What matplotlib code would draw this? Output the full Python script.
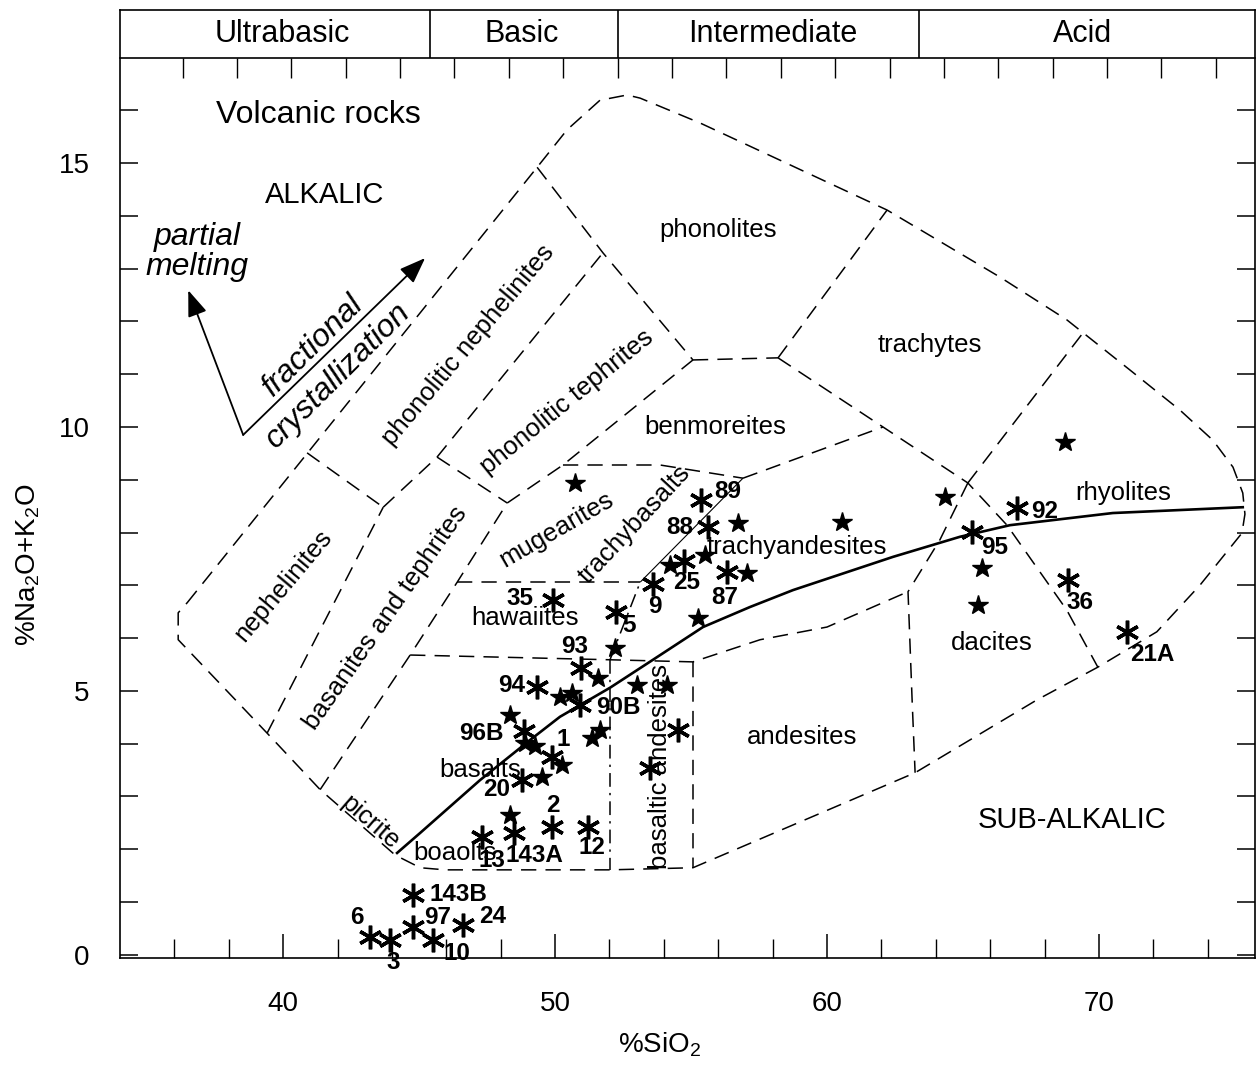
"""TAS diagram for volcanic rocks: rock fields, alkalic/sub-alkalic divide and samples."""

import matplotlib.pyplot as plt

plt.rcParams["font.family"] = ["Liberation Sans", "DejaVu Sans"]
plt.rcParams["mathtext.fontset"] = "custom"
plt.rcParams["mathtext.rm"] = "Liberation Sans"
plt.rcParams["mathtext.it"] = "Liberation Sans:italic"
plt.rcParams["mathtext.bf"] = "Liberation Sans:bold"

# ---- samples -------------------------------------------------------------
# filled stars (unnumbered)
STAR_SIO2 = [50.74, 52.21, 51.58, 53.01, 54.12, 50.18, 50.62, 48.35, 48.90,
             49.26, 50.26, 51.36, 51.65, 49.52, 48.35, 56.73, 55.51, 54.23,
             57.06, 55.26, 60.55, 64.34, 68.75, 65.70, 65.55]
STAR_ALK = [8.94, 5.81, 5.25, 5.11, 5.11, 4.89, 4.96, 4.55, 4.02,
            3.96, 3.60, 4.11, 4.26, 3.37, 2.65, 8.18, 7.58, 7.39,
            7.23, 6.38, 8.20, 8.67, 9.72, 7.33, 6.63]

# asterisks with sample numbers ("" = no number)
AST_SIO2 = [49.93, 49.34, 48.86, 48.79, 47.32, 48.49, 44.78, 44.78, 45.51,
            46.62, 43.20, 43.93, 49.89, 49.89, 51.21, 50.96, 50.92, 52.24,
            53.60, 55.37, 55.63, 54.74, 56.32, 66.99, 65.33, 68.86, 71.03,
            53.49, 54.52]
AST_ALK = [6.72, 5.08, 4.24, 3.31, 2.23, 2.31, 1.14, 0.53, 0.28,
           0.57, 0.34, 0.28, 3.75, 2.42, 2.42, 5.44, 4.73, 6.50,
           7.03, 8.62, 8.11, 7.46, 7.25, 8.47, 8.01, 7.10, 6.12,
           3.54, 4.26]
AST_LABELS = ["35", "94", "96B", "20", "13", "143A", "143B", "97", "10",
              "24", "6", "3", "1", "2", "12", "93", "90B", "5",
              "9", "89", "88", "25", "87", "92", "95", "36", "21A",
              "", ""]

# where each number sits relative to its asterisk (pixels, right / up)
LABEL_OFFSETS = {
    "35": (-33, 2), "94": (-26, 1), "96B": (-43, -2), "20": (-26, -9),
    "13": (10, -23), "143A": (20, -23), "143B": (45, 0), "97": (24, 9),
    "10": (24, -13), "24": (29, 8), "6": (-13, 19), "3": (3, -22),
    "1": (11, 17), "2": (1, 22), "12": (4, -20), "93": (-7, 21),
    "90B": (38, -2), "5": (13, -14), "9": (2, -23), "89": (27, 8),
    "88": (-28, -1), "25": (3, -21), "87": (-2, -25), "92": (28, -4),
    "95": (23, -15), "36": (12, -22), "21A": (25, -23),
}

# ---- field boundaries (SiO2, Na2O+K2O) ------------------------------------
OUTER = [(36.47, 6.67), (49.34, 14.92), (50.44, 15.63), (51.65, 16.19),
         (52.65, 16.29), (53.13, 16.23), (55.33, 15.76), (62.21, 14.11),
         (66.36, 12.84), (68.82, 12.03), (71.14, 11.08), (72.98, 10.32),
         (74.19, 9.75), (74.93, 9.24), (75.29, 8.75), (75.37, 8.35),
         (75.26, 7.99), (73.71, 7.00), (72.13, 6.12), (69.96, 5.45),
         (67.72, 4.83), (63.24, 3.45), (55.07, 1.65), (52.02, 1.61),
         (45.96, 1.61), (45.04, 1.65), (44.12, 1.89), (41.36, 3.13),
         (39.41, 4.20), (36.14, 5.97), (36.14, 6.48), (36.47, 6.67)]
NEPH_BASAN = [(39.41, 4.20), (43.68, 8.48)]
NEPH_TOP = [(40.88, 9.51), (43.68, 8.48)]
PHON_NEPH_TEPH = [(43.68, 8.48), (45.66, 9.43), (51.76, 13.30)]
BASAN_TOP = [(45.66, 9.43), (48.24, 8.56)]
BASAN_RIGHT = [(41.36, 3.13), (44.67, 5.68), (46.40, 7.06), (48.24, 8.56)]
PHON_TEPH_LOW = [(48.24, 8.56), (50.29, 9.28), (55.07, 11.27)]
PHONOLITE_LEFT = [(49.34, 14.92), (51.76, 13.30), (55.07, 11.27)]
PHONOLITE_LOW = [(55.07, 11.27), (58.20, 11.31)]
PHONOLITE_TRACHYTE = [(58.20, 11.31), (62.21, 14.11)]
TRACHYTE_LOW = [(58.20, 11.31), (62.06, 10.00), (65.18, 8.94), (66.62, 8.14),
                (68.82, 6.53), (69.96, 5.45)]
RHYOLITE_TRACHYTE = [(65.18, 8.94), (69.41, 11.78)]
DACITE_LEFT = [(65.18, 8.94), (64.15, 7.86), (62.98, 6.88), (63.13, 4.83),
               (63.24, 3.45)]
ANDESITE_TOP = [(44.67, 5.68), (52.02, 5.59), (55.07, 5.55), (57.54, 5.97),
                (60.00, 6.21), (62.98, 6.88)]
BAS_AND_LEFT = [(52.02, 5.59), (52.02, 1.61)]
BAS_AND_RIGHT = [(55.07, 5.55), (55.07, 1.65)]
HAWAIITE_TOP = [(46.40, 7.06), (53.13, 7.06)]
TRACHYAND_LOW = [(52.02, 5.59), (53.13, 7.06)]
TRACHYBAS_LINE = [(53.13, 7.06), (56.91, 9.03)]
TRACHYAND_TOP = [(56.91, 9.03), (62.06, 10.00)]
MUGEARITE_TOP = [(50.29, 9.28), (53.86, 9.28), (56.91, 9.03)]

# alkalic / sub-alkalic divide
DIVIDE_SIO2 = [44.19, 45.04, 47.24, 49.08, 50.18, 52.02, 53.60, 55.44, 57.17,
               58.75, 62.43, 64.89, 66.73, 70.51, 75.29]
DIVIDE_ALK = [1.93, 2.31, 3.31, 4.07, 4.51, 5.06, 5.59, 6.21, 6.59,
              6.91, 7.54, 7.92, 8.14, 8.37, 8.48]

SILICA_CLASSES = ["Ultrabasic", "Basic", "Intermediate", "Acid"]
CLASS_EDGES = [45.4, 52.3, 63.4]
CLASS_CENTRES = [39.96, 48.79, 58.01, 69.41]

# field names: text, SiO2, alkalis, rotation
FIELD_NAMES = [
    ("phonolites", 55.99, 13.73, 0),
    ("trachytes", 63.79, 11.55, 0),
    ("benmoreites", 55.88, 10.00, 0),
    ("trachyandesites", 58.90, 7.73, 0),
    ("hawaiites", 48.90, 6.38, 0),
    ("basalts", 47.24, 3.50, 0),
    ("boaolts", 46.30, 1.92, 0),
    ("andesites", 59.08, 4.13, 0),
    ("dacites", 66.07, 5.91, 0),
    ("rhyolites", 70.88, 8.75, 0),
    ("phonolitic nephelinites", 46.80, 11.55, 50),
    ("phonolitic tephrites", 50.44, 10.47, 39),
    ("basanites and tephrites", 43.75, 6.38, 55),
    ("nephelinites", 40.00, 6.99, 50),
    ("trachybasalts", 52.94, 8.16, 47),
    ("mugearites", 50.04, 8.05, 30),
    ("picrite", 43.20, 2.50, -41),
    ("basaltic andesites", 53.86, 3.56, 90),
]

DASH = (0, (10, 6))
DASHDOT = (0, (9, 4, 1.5, 4))


def _line(ax, pts, ls=DASH, lw=1.1):
    xs = [p[0] for p in pts]
    ys = [p[1] for p in pts]
    ax.plot(xs, ys, color="black", linestyle=ls, linewidth=lw,
            solid_capstyle="butt", zorder=2)


def draw_fields(ax):
    for pts in [OUTER, NEPH_BASAN, NEPH_TOP, PHON_NEPH_TEPH, BASAN_TOP,
                BASAN_RIGHT, PHON_TEPH_LOW, PHONOLITE_LEFT, PHONOLITE_LOW,
                PHONOLITE_TRACHYTE, TRACHYTE_LOW, RHYOLITE_TRACHYTE,
                DACITE_LEFT, ANDESITE_TOP, BAS_AND_RIGHT, HAWAIITE_TOP,
                TRACHYAND_TOP, MUGEARITE_TOP]:
        _line(ax, pts)
    _line(ax, BAS_AND_LEFT, ls=DASHDOT)
    _line(ax, TRACHYAND_LOW, ls=DASHDOT)
    _line(ax, TRACHYBAS_LINE, ls="-", lw=0.8)

    ax.plot(DIVIDE_SIO2, DIVIDE_ALK, color="black", linewidth=1.9, zorder=3)

    for text, x, y, rot in FIELD_NAMES:
        ax.text(x, y, text, fontsize=18.5, rotation=rot, rotation_mode="anchor",
                ha="center", va="center", zorder=4)


def draw_header(ax):
    top = ax.get_ylim()[1]
    ax.plot([ax.get_xlim()[0], ax.get_xlim()[1]], [17.0, 17.0],
            color="black", linewidth=1.2, clip_on=False)
    ax.vlines(CLASS_EDGES, 17.0, top, color="black", linewidth=1.2)
    ax.vlines([36.3 + 2 * k for k in range(20)], 16.62, 17.0,
              color="black", linewidth=1.0)
    for name, x in zip(SILICA_CLASSES, CLASS_CENTRES):
        ax.text(x, 17.45, name, fontsize=22, ha="center", va="center")


def draw_samples(ax):
    ax.plot(STAR_SIO2, STAR_ALK, linestyle="none", marker="*", markersize=15,
            color="black", zorder=5)
    ax.plot(AST_SIO2, AST_ALK, linestyle="none", marker=(6, 2, 0),
            markersize=17, markeredgewidth=2.5, color="black", zorder=5)
    for x, y, lab in zip(AST_SIO2, AST_ALK, AST_LABELS):
        if not lab:
            continue
        ax.annotate(lab, (x, y), xytext=LABEL_OFFSETS[lab],
                    textcoords="offset pixels", ha="center", va="center",
                    fontsize=17.5, fontweight="bold", zorder=6)


def draw_notes(ax):
    ax.text(41.29, 15.91, "Volcanic rocks", fontsize=23, ha="center", va="center")
    ax.text(41.54, 14.39, "ALKALIC", fontsize=21, ha="center", va="center")
    ax.text(69.01, 2.56, "SUB-ALKALIC", fontsize=21, ha="center", va="center")
    ax.text(36.84, 13.31, "partial\nmelting", fontsize=23, style="italic",
            ha="center", va="center", linespacing=1.0)
    ax.text(41.10, 11.55, "fractional", fontsize=23, style="italic",
            rotation=45, rotation_mode="anchor", ha="center", va="center")
    ax.text(42.02, 10.98, "crystallization", fontsize=23, style="italic",
            rotation=45, rotation_mode="anchor", ha="center", va="center")

    corner = (38.53, 9.85)
    for tip in [(36.51, 12.59), (45.22, 13.20)]:
        ax.annotate("", xy=tip, xytext=corner,
                    arrowprops=dict(arrowstyle="-|>,head_length=0.8,head_width=0.3",
                                    color="black", lw=1.3, shrinkA=0, shrinkB=0,
                                    mutation_scale=20))


def main():
    fig = plt.figure(figsize=(12.6, 10.81), dpi=100)
    ax = fig.add_axes([120 / 1260, 1 - 958 / 1081, 1135 / 1260, 948 / 1081])
    ax.set_xlim(34.0, 75.74)
    ax.set_ylim(-0.06, 17.9)

    for s in ax.spines.values():
        s.set_linewidth(1.2)

    ax.set_xticks([40, 50, 60, 70])
    ax.set_xticks(list(range(36, 76, 2)), minor=True)
    ax.set_yticks([0, 5, 10, 15])
    ax.set_yticks(list(range(1, 17)), minor=True)
    ax.tick_params(axis="x", which="major", direction="in", length=17,
                   width=1.1, top=False, labelsize=20, pad=24)
    ax.tick_params(axis="x", which="minor", direction="in", length=14,
                   width=1.0, top=False)
    ax.tick_params(axis="y", which="both", direction="in", length=13,
                   width=1.1, left=True, right=True, labelsize=20, pad=22)

    draw_header(ax)
    draw_fields(ax)
    draw_samples(ax)
    draw_notes(ax)

    fig.text(660 / 1260, 1 - 1045 / 1081, "%SiO$_2$", fontsize=20,
             ha="center", va="center")
    fig.text(28 / 1260, 1 - 565 / 1081, "%Na$_2$O+K$_2$O", fontsize=20,
             ha="center", va="center", rotation=90)

    fig.savefig("out.png", dpi=100, facecolor="white")
    plt.close(fig)


if __name__ == "__main__":
    main()
